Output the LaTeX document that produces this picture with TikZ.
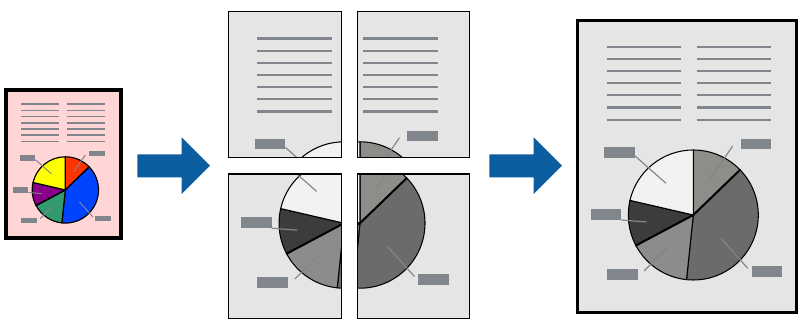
\documentclass[tikz,border=0pt]{standalone}
\usepackage{tikz}

\definecolor{paper}{RGB}{229,229,229}
\definecolor{pinkpaper}{RGB}{255,213,213}
\definecolor{ink}{RGB}{128,134,140}
\definecolor{flowblue}{RGB}{13,94,160}
\definecolor{pieA}{RGB}{143,141,138}
\definecolor{pieB}{RGB}{107,107,107}
\definecolor{pieC}{RGB}{140,140,140}
\definecolor{pieD}{RGB}{60,60,60}
\definecolor{pieE}{RGB}{242,242,242}

% one poster page: text lines, pie chart and its tags
\newcommand\postercontent{%
  \foreach \k in {0,...,6} {
    \draw[text line] (606.7,273.3-12.17*\k) -- ++(74.3,0);
    \draw[text line] (696.7,273.3-12.17*\k) -- ++(74.6,0);
  }
  \coordinate (pc) at (693.3,105);
  \filldraw[slice,fill=pieA] (pc) -- ++(90:65) arc[start angle=90,end angle=44,radius=65] -- cycle;
  \filldraw[slice,fill=pieB] (pc) -- ++(44:65) arc[start angle=44,end angle=-96,radius=65] -- cycle;
  \filldraw[slice,fill=pieC] (pc) -- ++(-96:65) arc[start angle=-96,end angle=-152,radius=65] -- cycle;
  \filldraw[slice,fill=pieD] (pc) -- ++(208:65) arc[start angle=208,end angle=167,radius=65] -- cycle;
  \filldraw[slice,fill=pieE] (pc) -- ++(167:65) arc[start angle=167,end angle=90,radius=65] -- cycle;
  \draw[divider] (pc) -- ++(44:65) (pc) -- ++(208:65);
  \fill[tag] (740.7,170.7) rectangle ++(30.3,10.3);
  \fill[tag] (604.3,162.3) rectangle ++(30.4,10.4);
  \fill[tag] (590.7,100) rectangle ++(30.3,10.7);
  \fill[tag] (606.7,40) rectangle ++(31,10.7);
  \fill[tag] (751.7,43.3) rectangle ++(30.3,10.7);
  \draw[leader] (732.7,174) -- (710,140.7);
  \draw[leader] (634.7,164.3) -- (666,136.7);
  \draw[leader] (621,100) -- (646.7,98);
  \draw[leader] (644,49) -- (667.7,72.7);
  \draw[leader] (747.7,51.7) -- (721,81.7);
}

\begin{document}
\begin{tikzpicture}[x=0.03cm,y=0.03cm,
    text line/.style={ink,line width=1.9pt},
    slice/.style={draw=black,line width=0.9pt,line join=round},
    divider/.style={black,line width=1.7pt,line cap=round},
    tag/.style={fill=ink},
    leader/.style={ink,line width=1pt},
    page/.style={draw=black,line width=3pt},
    tile/.style={draw=black,line width=1.2pt},
    big arrow/.style={fill=flowblue}]
  \useasboundingbox (0,0) rectangle (799,320);

  % original page
  \draw[page,fill=pinkpaper,line width=2.6pt] (6,82) rectangle (121,230);
  \begin{scope}[shift={(6,230)},scale=0.51,shift={(-577,-301)},
      text line/.append style={line width=1.4pt},
      leader/.append style={line width=0.8pt},
      slice/.append style={line width=1pt},
      divider/.append style={line width=1pt}]
    \definecolor{pieA}{RGB}{255,51,0}
    \definecolor{pieB}{RGB}{0,68,255}
    \definecolor{pieC}{RGB}{51,153,110}
    \definecolor{pieD}{RGB}{136,0,136}
    \definecolor{pieE}{RGB}{255,255,0}
    \postercontent
  \end{scope}

  % arrows
  \foreach \ax in {137.3,489.3}
    \fill[big arrow] (\ax,142.7) -- ++(44.4,0) -- ++(0,-16.7) -- ++(28.3,28.3)
      -- ++(-28.3,28.4) -- ++(0,-17) -- ++(-44.4,0) -- cycle;

  % split tiles
  \foreach \tx/\ty/\tw/\th/\sx/\sy in {228.3/162.3/113.4/146/-349.3/8.2,
      357.3/162.3/112/146/-333.3/8.2, 228.3/1.5/113.4/144.5/-349.3/-8.2,
      357.3/1.5/112/144.5/-333.3/-8.2} {
    \begin{scope}
      \clip (\tx,\ty) rectangle ++(\tw,\th);
      \fill[paper] (\tx,\ty) rectangle ++(\tw,\th);
      \begin{scope}[shift={(\sx,\sy)}]
        \postercontent
      \end{scope}
    \end{scope}
    \draw[tile] (\tx,\ty) rectangle ++(\tw,\th);
  }

  % joined poster
  \draw[page,fill=paper] (577.7,7.3) rectangle (796.5,299.5);
  \postercontent
\end{tikzpicture}
\end{document}
